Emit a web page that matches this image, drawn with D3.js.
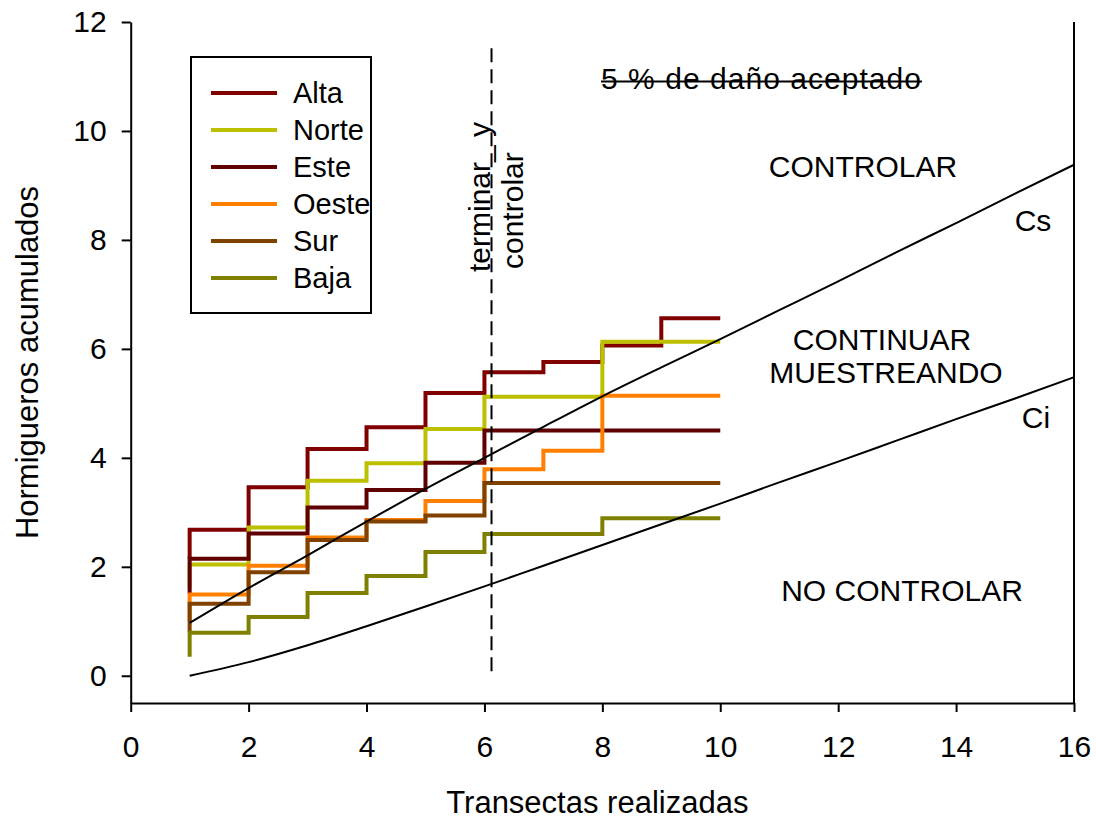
<!DOCTYPE html>
<html>
<head>
<meta charset="utf-8">
<script src="https://cdn.jsdelivr.net/npm/d3@7"></script>
<style>
  body { margin: 0; background: #fff; }
  svg { font-family: "Liberation Sans", Arial, sans-serif; }
  .axis text { font-size: 30px; fill: #000; }
  .axis path, .axis line { stroke: #000; stroke-width: 2px; }
</style>
</head>
<body>
<svg id="chart" width="1096" height="821"></svg>
<script>
// transect number (x) for every step series
const transects = [1, 2, 3, 4, 5, 6, 7, 8, 9, 10];

const seriesNames = ['Alta', 'Norte', 'Este', 'Oeste', 'Sur', 'Baja'];
const seriesColors = ['#800000', '#bcc000', '#600000', '#ff8000', '#804000', '#808000'];

const alta  = [2.15, 2.68, 3.46, 4.16, 4.56, 5.19, 5.57, 5.76, 6.06, 6.56];
const norte = [1.60, 2.04, 2.72, 3.58, 3.90, 4.53, 5.12, 5.12, 6.13, 6.13];
const este  = [1.50, 2.15, 2.61, 3.09, 3.41, 3.91, 4.50, 4.50, 4.50, 4.50];
const oeste = [1.00, 1.49, 2.02, 2.54, 2.86, 3.21, 3.79, 4.13, 5.14, 5.14];
const sur   = [0.80, 1.32, 1.90, 2.49, 2.83, 2.94, 3.54, 3.54, 3.54, 3.54];
const baja  = [0.35, 0.79, 1.08, 1.52, 1.83, 2.27, 2.60, 2.60, 2.89, 2.89];

// decision limits
const limitX = [1, 2, 3, 4, 5, 6, 7, 8, 9, 10, 11, 12, 13, 14, 15, 16];
const cs = [0.97, 1.61, 2.21, 2.83, 3.43, 4.00, 4.57, 5.13, 5.66, 6.18, 6.71, 7.24, 7.78, 8.31, 8.85, 9.38];
const ci = [0.00, 0.25, 0.56, 0.91, 1.27, 1.64, 2.02, 2.40, 2.78, 3.16, 3.55, 3.93, 4.32, 4.71, 5.09, 5.48];

const stopX = 6.12; // "terminar y controlar"
const xTicks = [0, 2, 4, 6, 8, 10, 12, 14, 16];
const yTicks = [0, 2, 4, 6, 8, 10, 12];

const svg = d3.select('#chart');

const x = d3.scaleLinear().domain([0, 16]).range([130.7, 1074]);
const y = d3.scaleLinear().domain([-0.5, 12]).range([703, 22]);

const xAxis = d3.axisBottom(x).tickValues(xTicks).tickSize(9).tickSizeOuter(0).tickPadding(24);
const yAxis = d3.axisLeft(y).tickValues(yTicks).tickSize(9).tickSizeOuter(0).tickPadding(15);

svg.append('g').attr('class', 'axis')
    .attr('transform', `translate(0, ${y(-0.5)})`)
    .call(xAxis);
svg.append('g').attr('class', 'axis')
    .attr('transform', `translate(${x(0)}, 0)`)
    .call(yAxis);

// right frame line
svg.append('line')
    .attr('x1', x(16)).attr('x2', x(16))
    .attr('y1', y(12)).attr('y2', y(-0.5))
    .attr('stroke', '#000').attr('stroke-width', 2);

// step series
const allSeries = [alta, norte, este, oeste, sur, baja];
const stepLine = d3.line()
    .x((d, i) => x(transects[i]))
    .y(d => y(d))
    .curve(d3.curveStepBefore);

svg.append('g').selectAll('path')
    .data(allSeries)
    .enter()
    .append('path')
    .attr('d', d => stepLine(d))
    .attr('fill', 'none')
    .attr('stroke', (d, i) => seriesColors[i])
    .attr('stroke-width', 4);

// limit curves
const limitLine = d3.line()
    .x((d, i) => x(limitX[i]))
    .y(d => y(d))
    .curve(d3.curveMonotoneX);

svg.append('g').selectAll('path')
    .data([cs, ci])
    .enter()
    .append('path')
    .attr('d', d => limitLine(d))
    .attr('fill', 'none')
    .attr('stroke', '#000')
    .attr('stroke-width', 2);

// dashed stop line
svg.append('line')
    .attr('x1', x(stopX)).attr('x2', x(stopX))
    .attr('y1', y(11.52)).attr('y2', y(0))
    .attr('stroke', '#000').attr('stroke-width', 2)
    .attr('stroke-dasharray', '14,7');

// legend
const legend = svg.append('g');
legend.append('rect')
    .attr('x', 191).attr('y', 57)
    .attr('width', 180).attr('height', 256)
    .attr('fill', 'none').attr('stroke', '#000').attr('stroke-width', 2);

const legendRows = legend.selectAll('g.row')
    .data(seriesNames)
    .enter()
    .append('g')
    .attr('class', 'row')
    .attr('transform', (d, i) => `translate(211, ${93 + i * 37})`);

legendRows.append('line')
    .attr('x1', 0).attr('x2', 66)
    .attr('stroke', (d, i) => seriesColors[i])
    .attr('stroke-width', 4);

legendRows.append('text')
    .attr('x', 82).attr('dy', '0.35em')
    .attr('font-size', 29)
    .text(d => d);

// axis titles
svg.append('text')
    .attr('x', (x(0) + x(16)) / 2 - 5).attr('y', 813)
    .attr('text-anchor', 'middle')
    .attr('font-size', 31)
    .text('Transectas realizadas');

svg.append('text')
    .attr('transform', `translate(38, ${(y(12) + y(-0.5)) / 2}) rotate(-90)`)
    .attr('text-anchor', 'middle')
    .attr('font-size', 31)
    .text('Hormigueros acumulados');

// annotations
const notes = [
    { t: 'CONTROLAR', x: 863, y: 177 },
    { t: 'CONTINUAR', x: 882, y: 350 },
    { t: 'MUESTREANDO', x: 886, y: 383 },
    { t: 'NO CONTROLAR', x: 902, y: 601 },
    { t: 'Cs', x: 1033, y: 231 },
    { t: 'Ci', x: 1036, y: 428 }
];
svg.append('g').selectAll('text')
    .data(notes)
    .enter()
    .append('text')
    .attr('x', d => d.x).attr('y', d => d.y)
    .attr('text-anchor', 'middle')
    .attr('font-size', 30)
    .text(d => d.t);

const damage = svg.append('text')
    .attr('x', 601).attr('y', 89)
    .attr('font-size', 30)
    .attr('textLength', 320)
    .attr('lengthAdjust', 'spacing')
    .text('5 % de daño aceptado');
svg.append('line')
    .attr('x1', 601).attr('x2', 922)
    .attr('y1', 81.5).attr('y2', 81.5)
    .attr('stroke', '#000').attr('stroke-width', 2);

svg.append('text')
    .attr('transform', 'translate(490, 272) rotate(-90)')
    .attr('font-size', 30)
    .text('terminar_ y');
svg.append('text')
    .attr('transform', 'translate(523, 269) rotate(-90)')
    .attr('font-size', 30)
    .text('controlar');
</script>
</body>
</html>
